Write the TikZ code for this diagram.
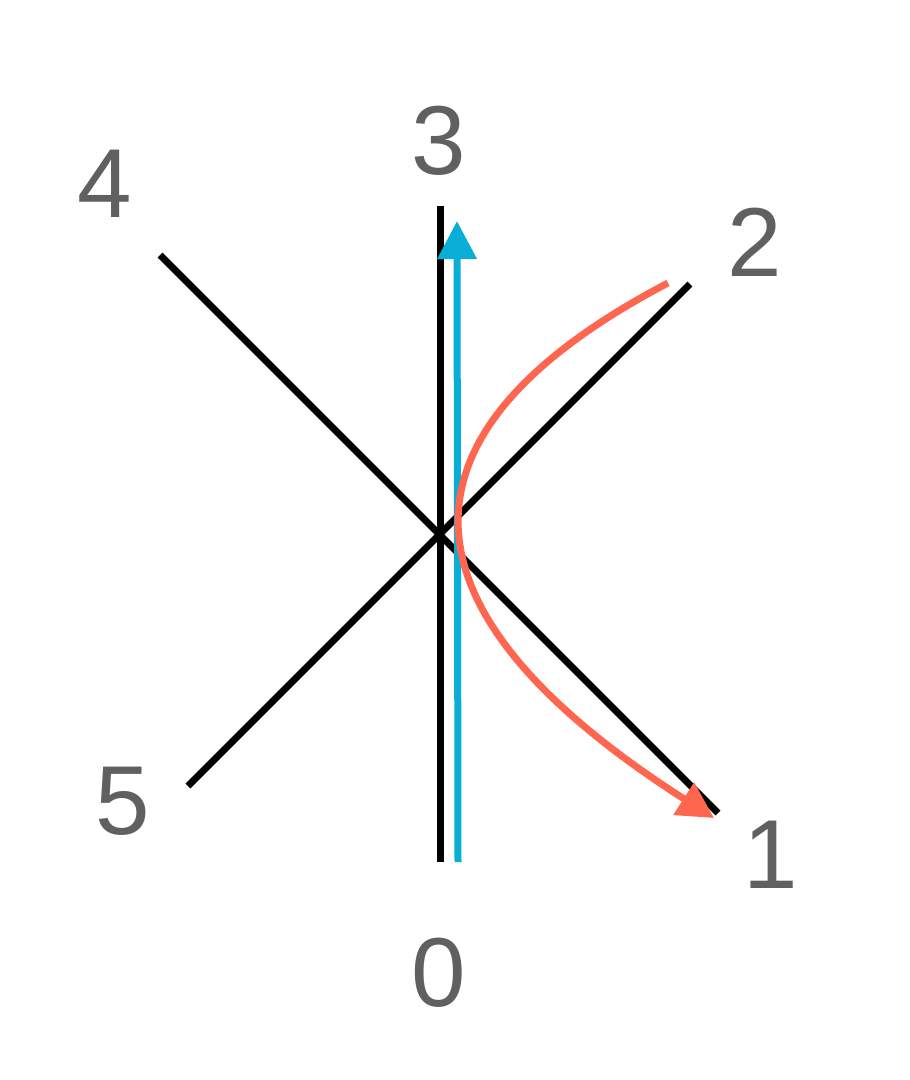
\documentclass[tikz,border=0pt]{standalone}
\usepackage{fontspec}
\setmainfont{Liberation Sans}
\usetikzlibrary{arrows.meta}
\definecolor{labgray}{RGB}{96,96,96}
\definecolor{bluel}{RGB}{8,174,214}
\definecolor{redl}{RGB}{255,102,80}
\begin{document}
\begin{tikzpicture}[x=1pt,y=-1pt,
  axis/.style={line width=7pt,black},
  lab/.style={anchor=base,inner sep=0pt,text=labgray,font=\fontsize{98}{98}\selectfont},
  bluearrow/.style={line width=7pt,bluel,-{Triangle[length=38pt,width=38pt]}},
  redarrow/.style={line width=7pt,redl,-{Triangle[length=36pt,width=37pt]}}]
\useasboundingbox (0,0) rectangle (910,1080);
% line endpoints
\coordinate (v0) at (440,862);
\coordinate (v3) at (440,206);
\coordinate (d4) at (160,255);
\coordinate (d1) at (718,813);
\coordinate (d2) at (690,284);
\coordinate (d5) at (188,786);
\coordinate (b0) at (458,862);
\coordinate (b3) at (457,221);
\coordinate (r0) at (668,283);
\coordinate (r1) at (714,818);
% lines
\draw[axis] (v0) -- (v3);
\draw[axis] (d4) -- (d1);
\draw[axis] (d5) -- (d2);
\draw[bluearrow] (b0) -- (b3);
\draw[redarrow] (r0) .. controls (378,435) and (393,613) .. (r1);
% labels
\node[lab] (l0) at (439,1006) {0};
\node[lab] (l1) at (771,888) {1};
\node[lab] (l2) at (755,276) {2};
\node[lab] (l3) at (439,174) {3};
\node[lab] (l4) at (105,217) {4};
\node[lab] (l5) at (123,834) {5};
\end{tikzpicture}
\end{document}
